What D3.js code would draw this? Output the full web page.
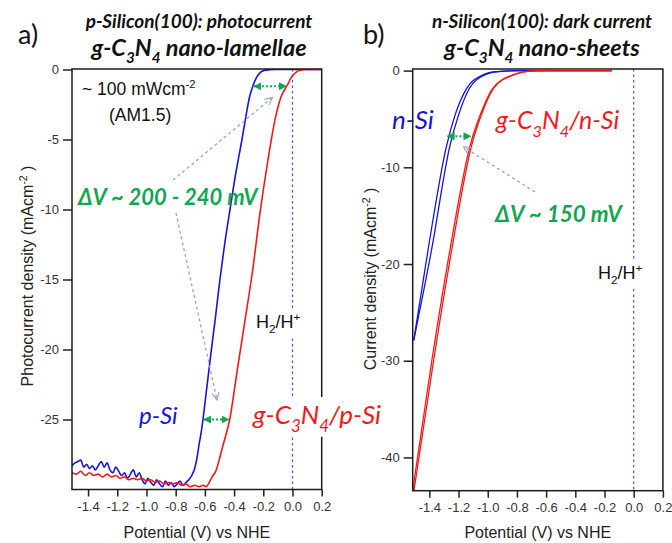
<!DOCTYPE html>
<html>
<head>
<meta charset="utf-8">
<script src="https://cdn.jsdelivr.net/npm/d3@7"></script>
<style>
  body { margin: 0; background: #fff; }
  svg text { font-family: "Liberation Sans", Arial, sans-serif; }
  .cal { font-family: Lato, "Open Sans", sans-serif; }
  .bi { font-weight: bold; font-style: italic; }
  .it { font-style: italic; }
  .tick text { fill: #333; font-size: 13px; }
  .tick line { stroke: #222; stroke-width: 1.5; }
</style>
</head>
<body>
<svg id="chart" width="672" height="543"></svg>
<script>
// panel a: p-Si photocurrent, [V vs NHE, mA cm-2]
const pSi = [
  [-1.51, -28.3], [-1.49, -28.1], [-1.47, -28.0], [-1.45, -27.9], [-1.43, -28.4],
  [-1.41, -28.2], [-1.39, -28.5], [-1.37, -28.3], [-1.35, -28.6], [-1.33, -28.3],
  [-1.31, -28.0], [-1.29, -28.4], [-1.27, -28.1], [-1.25, -28.6], [-1.23, -28.8],
  [-1.21, -28.4], [-1.19, -28.7], [-1.17, -29.0], [-1.15, -28.8], [-1.13, -29.2],
  [-1.11, -28.9], [-1.09, -28.6], [-1.07, -29.1], [-1.05, -28.8], [-1.03, -29.3],
  [-1.01, -29.6], [-0.99, -29.2], [-0.97, -29.5], [-0.95, -29.7], [-0.93, -29.3],
  [-0.91, -29.6], [-0.89, -29.8], [-0.87, -29.4], [-0.85, -29.7], [-0.83, -29.5],
  [-0.81, -29.8], [-0.79, -29.6], [-0.77, -29.4], [-0.75, -29.7], [-0.73, -29.5],
  [-0.71, -29.3], [-0.69, -29.0], [-0.67, -28.5], [-0.655, -27.8], [-0.64, -26.8],
  [-0.625, -25.9], [-0.613, -25.0], [-0.59, -23.0], [-0.56, -20.4], [-0.53, -17.9],
  [-0.497, -15.0], [-0.465, -12.5], [-0.428, -10.0], [-0.39, -7.5], [-0.346, -5.0],
  [-0.32, -3.4], [-0.295, -2.0], [-0.27, -1.14], [-0.245, -0.55], [-0.22, -0.2],
  [-0.19, -0.06], [-0.16, -0.02], [-0.12, 0], [0.2, 0]
]
const cnpSi = [
  [-1.51, -28.8], [-1.48, -28.9], [-1.45, -28.7], [-1.42, -29.0], [-1.39, -28.8],
  [-1.36, -29.0], [-1.33, -28.9], [-1.30, -29.1], [-1.27, -28.9], [-1.24, -29.1],
  [-1.21, -29.0], [-1.18, -29.2], [-1.15, -29.1], [-1.12, -29.3], [-1.09, -29.2],
  [-1.06, -29.3], [-1.03, -29.2], [-1.00, -29.4], [-0.97, -29.3], [-0.94, -29.5],
  [-0.91, -29.4], [-0.88, -29.6], [-0.85, -29.5], [-0.82, -29.6], [-0.79, -29.5],
  [-0.76, -29.7], [-0.73, -29.6], [-0.70, -29.8], [-0.67, -29.7], [-0.64, -29.8],
  [-0.61, -29.7], [-0.59, -29.8], [-0.575, -29.6], [-0.56, -29.3], [-0.545, -29.0],
  [-0.53, -28.8], [-0.519, -28.5], [-0.50, -27.8], [-0.475, -26.8], [-0.43, -25.0],
  [-0.38, -21.6], [-0.325, -17.9], [-0.275, -14.5], [-0.222, -10.2], [-0.17, -6.6],
  [-0.12, -3.6], [-0.08, -2.0], [-0.037, -1.14], [0.0, -0.45], [0.03, -0.15],
  [0.06, -0.04], [0.09, 0], [0.2, 0]
]

// panel b: dark current, two scans per sample
const nSi1 = [
  [-1.507, -27.9], [-1.409, -18.55], [-1.281, -7.7], [-1.224, -4.6], [-1.144, -1.83],
  [-1.033, -0.45], [-0.95, -0.12], [-0.85, -0.02], [-0.75, 0], [-0.151, 0]
]
const nSi2 = [
  [-1.507, -27.9], [-1.385, -18.55], [-1.258, -7.7], [-1.200, -4.6], [-1.125, -1.83],
  [-1.02, -0.45], [-0.93, -0.1], [-0.82, -0.01], [-0.75, 0], [-0.151, 0]
]
const cnnSi1 = [
  [-1.514, -43.4], [-1.382, -29.9], [-1.259, -18.55], [-1.12, -7.7], [-1.052, -4.6],
  [-0.966, -1.83], [-0.828, -0.45], [-0.69, -0.03], [-0.6, 0], [-0.151, 0]
]
const cnnSi2 = [
  [-1.505, -43.4], [-1.370, -29.9], [-1.247, -18.55], [-1.110, -7.7], [-1.044, -4.6],
  [-0.960, -1.83], [-0.824, -0.45], [-0.69, -0.03], [-0.6, 0], [-0.151, 0]
]

const xTicks = [-1.4, -1.2, -1.0, -0.8, -0.6, -0.4, -0.2, 0.0, 0.2]
const yTicksA = [0, -5, -10, -15, -20, -25]
const yTicksB = [0, -10, -20, -30, -40]

const blue = '#1414dc'
const red = '#f21818'
const green = '#12a552'
const hint = '#8da6d4'

const svg = d3.select('#chart')

const defs = svg.append('defs')
defs.append('marker')
  .attr('id', 'gArrow').attr('viewBox', '0 0 10 10')
  .attr('refX', 9).attr('refY', 5)
  .attr('markerWidth', 8).attr('markerHeight', 8)
  .attr('markerUnits', 'userSpaceOnUse')
  .attr('orient', 'auto-start-reverse')
  .append('path').attr('d', 'M0,0L10,5L0,10Z').attr('fill', green)
defs.append('marker')
  .attr('id', 'hArrow').attr('viewBox', '0 0 10 10')
  .attr('refX', 9).attr('refY', 5)
  .attr('markerWidth', 9).attr('markerHeight', 9)
  .attr('markerUnits', 'userSpaceOnUse')
  .attr('orient', 'auto')
  .append('path').attr('d', 'M1,1L9,5L1,9').attr('fill', 'none')
  .attr('stroke', hint).attr('stroke-width', 1.3)

// text with sub/superscript parts
function rich(g, x, y, parts, size, cls, fill, anchor) {
  const t = g.append('text')
    .attr('x', x).attr('y', y)
    .attr('class', cls || null)
    .attr('fill', fill || '#111')
    .attr('text-anchor', anchor || 'start')
    .style('font-size', size + 'px')
  let shift = 0
  parts.forEach(([s, k]) => {
    const target = k === 'sub' ? size * 0.3 : k === 'sup' ? -size * 0.4 : 0
    const ts = t.append('tspan').attr('dy', target - shift).text(s)
    if (k) ts.style('font-size', size * 0.65 + 'px')
    shift = target
  })
  return t
}

function whiteBehind(g, t, pad) {
  const b = t.node().getBBox()
  g.insert('rect', () => t.node())
    .attr('x', b.x - pad).attr('y', b.y - 1)
    .attr('width', b.width + 2 * pad).attr('height', b.height + 2)
    .attr('fill', '#fff')
}

function panel(cfg) {
  const x = d3.scaleLinear().domain(cfg.xDomain).range([cfg.left, cfg.right])
  const y = d3.scaleLinear().domain(cfg.yDomain).range([cfg.bottom, cfg.top])
  const g = svg.append('g')

  const clipId = 'clip' + cfg.id
  defs.append('clipPath').attr('id', clipId)
    .append('rect')
    .attr('x', cfg.left).attr('y', cfg.top)
    .attr('width', cfg.right - cfg.left).attr('height', cfg.bottom - cfg.top)

  // x axis
  g.append('g')
    .attr('transform', 'translate(0,' + cfg.bottom + ')')
    .call(d3.axisBottom(x).tickValues(xTicks).tickSize(7).tickPadding(5)
      .tickSizeOuter(0).tickFormat((d) => d.toFixed(1)))
    .call((a) => a.select('.domain').remove())

  // y axis
  g.append('g')
    .attr('transform', 'translate(' + cfg.left + ',0)')
    .call(d3.axisLeft(y).tickValues(cfg.yTicks).tickSize(9).tickPadding(4)
      .tickSizeOuter(0).tickFormat((d) => String(d)))
    .call((a) => a.select('.domain').remove())

  g.selectAll('.tick text').attr('font-family', '"Liberation Sans", Arial, sans-serif')

  // H2/H+ reference line
  g.append('line')
    .attr('x1', x(0)).attr('x2', x(0))
    .attr('y1', cfg.top).attr('y2', cfg.bottom)
    .attr('stroke', '#3b5bd0').attr('stroke-width', 1.2)
    .attr('stroke-dasharray', '2.5,3')

  const line = d3.line()
    .x((d) => x(d[0])).y((d) => y(d[1]))
    .curve(d3.curveMonotoneX)

  const curves = g.append('g').attr('clip-path', 'url(#' + clipId + ')')
  cfg.series.forEach((s) => {
    curves.append('path')
      .datum(s.data)
      .attr('d', line)
      .attr('fill', 'none')
      .attr('stroke', s.color)
      .attr('stroke-width', s.width)
  })

  // frame
  g.append('rect')
    .attr('x', cfg.left).attr('y', cfg.top)
    .attr('width', cfg.right - cfg.left).attr('height', cfg.bottom - cfg.top)
    .attr('fill', 'none').attr('stroke', '#1a1a1a').attr('stroke-width', 1.5)

  // axis titles
  g.append('text')
    .attr('x', (cfg.left + cfg.right) / 2).attr('y', 538)
    .attr('text-anchor', 'middle').attr('fill', '#222')
    .style('font-size', '16px')
    .text('Potential (V) vs NHE')

  rich(g, 0, 0, [[cfg.yLabel], ['-2', 'sup'], [' )']], 16, null, '#222', 'middle')
    .attr('transform', 'translate(' + cfg.yLabelX + ',' + cfg.yLabelY + ') rotate(-90)')

  return { g, x, y }
}

function dArrow(p, v1, v2, j) {
  p.g.append('line')
    .attr('x1', p.x(v1) + 1).attr('x2', p.x(v2) - 1)
    .attr('y1', p.y(j)).attr('y2', p.y(j))
    .attr('stroke', green).attr('stroke-width', 2)
    .attr('stroke-dasharray', '2,2')
    .attr('marker-start', 'url(#gArrow)')
    .attr('marker-end', 'url(#gArrow)')
}

function hintArrow(p, from, to) {
  p.g.append('line')
    .attr('x1', p.x(from[0])).attr('y1', p.y(from[1]))
    .attr('x2', p.x(to[0])).attr('y2', p.y(to[1]))
    .attr('stroke', hint).attr('stroke-width', 1.3)
    .attr('stroke-dasharray', '3,3')
    .attr('marker-end', 'url(#hArrow)')
}

//panel a
const pa = panel({
  id: 'a', left: 72, right: 321.7, top: 69, bottom: 489.5,
  xDomain: [-1.51, 0.2], yDomain: [-30, 0.036], yTicks: yTicksA,
  yLabel: 'Photocurrent density (mAcm', yLabelX: 33, yLabelY: 276,
  series: [
    { data: pSi, color: blue, width: 1.6 },
    { data: cnpSi, color: red, width: 1.6 }
  ]
})

//panel b
const pb = panel({
  id: 'b', left: 412.7, right: 662.9, top: 69, bottom: 490.7,
  xDomain: [-1.514, 0.2], yDomain: [-43.44, 0.165], yTicks: yTicksB,
  yLabel: 'Current density (mAcm', yLabelX: 376, yLabelY: 279,
  series: [
    { data: nSi1, color: blue, width: 1.3 },
    { data: nSi2, color: blue, width: 1.3 },
    { data: cnnSi1, color: red, width: 1.3 },
    { data: cnnSi2, color: red, width: 1.3 }
  ]
})

// headings
svg.append('text').attr('class', 'cal').attr('x', 18).attr('y', 44)
  .style('font-size', '27px').attr('fill', '#111').text('a)')
svg.append('text').attr('class', 'cal').attr('x', 363).attr('y', 44)
  .style('font-size', '27px').attr('fill', '#111').text('b)')

rich(svg, 199, 28, [['p-Silicon(100): photocurrent']], 19, 'cal bi', '#111', 'middle')
rich(svg, 199, 56, [['g-C'], ['3', 'sub'], ['N'], ['4', 'sub'], [' nano-lamellae']], 23.5, 'cal bi', '#111', 'middle')
rich(svg, 542, 28, [['n-Silicon(100): dark current']], 19, 'cal bi', '#111', 'middle')
rich(svg, 542, 56, [['g-C'], ['3', 'sub'], ['N'], ['4', 'sub'], [' nano-sheets']], 23.5, 'cal bi', '#111', 'middle')

// panel a notes
rich(pa.g, 82, 95, [['~ 100 mWcm'], ['-2', 'sup']], 17.5, null, '#111')
rich(pa.g, 109, 121, [['(AM1.5)']], 17.5, null, '#111')
rich(pa.g, 78, 205, [['\u0394V ~ 200 - 240 mV']], 22, 'cal bi', green)
hintArrow(pa, [-0.818, -7.9], [-0.138, -2.0])
hintArrow(pa, [-0.798, -10.25], [-0.517, -23.6])
dArrow(pa, -0.27, -0.037, -1.2)
dArrow(pa, -0.613, -0.43, -25)
const h2a = rich(pa.g, 256, 328, [['H'], ['2', 'sub'], ['/H'], ['+', 'sup']], 18, null, '#111')
whiteBehind(pa.g, h2a, 2)
rich(pa.g, 139, 424, [['p-Si']], 24, 'cal it', blue)
const lblA = rich(pa.g, 253, 424, [['g-C'], ['3', 'sub'], ['N'], ['4', 'sub'], ['/p-Si']], 26, 'cal it', red)
whiteBehind(pa.g, lblA, 3)

// panel b notes
rich(pb.g, 392, 129, [['n-Si']], 26, 'cal it', blue)
rich(pb.g, 496, 129, [['g-C'], ['3', 'sub'], ['N'], ['4', 'sub'], ['/n-Si']], 25, 'cal it', red)
dArrow(pb, -1.283, -1.110, -6.8)
hintArrow(pb, [-0.676, -12.55], [-1.165, -7.9])
rich(pb.g, 495, 222, [['\u0394V ~ 150 mV']], 22.5, 'cal bi', green)
const h2b = rich(pb.g, 598, 279, [['H'], ['2', 'sub'], ['/H'], ['+', 'sup']], 18, null, '#111')
whiteBehind(pb.g, h2b, 2)
</script>
</body>
</html>
